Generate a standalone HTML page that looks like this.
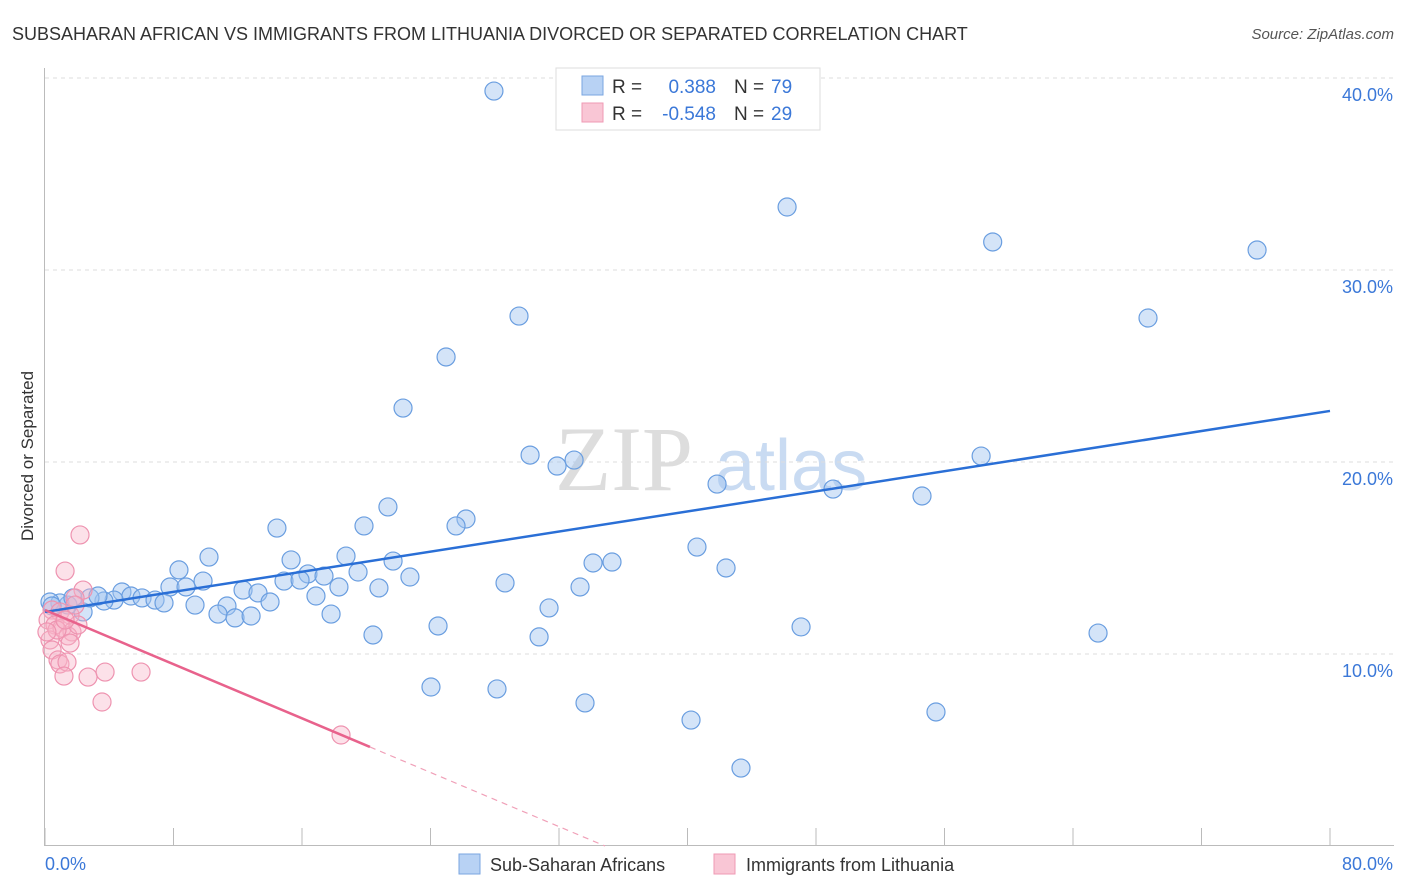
<!DOCTYPE html>
<html><head><meta charset="utf-8"><style>
body{margin:0;background:#fff;font-family:"Liberation Sans",sans-serif}
svg{display:block}
</style></head><body>
<svg id="chart" width="1406" height="892" xmlns="http://www.w3.org/2000/svg">
<text x="12" y="40" font-size="18" fill="#333">SUBSAHARAN AFRICAN VS IMMIGRANTS FROM LITHUANIA DIVORCED OR SEPARATED CORRELATION CHART</text>
<text x="1394" y="39" font-size="15" fill="#555" font-style="italic" text-anchor="end">Source: ZipAtlas.com</text>
<g>
<text x="555" y="490" font-size="92" font-family="Liberation Serif,serif" fill="#ddd">ZIP</text>
<text x="715" y="490" font-size="72" fill="#c9dbf2">atlas</text>
</g>
<g id="grid"></g>
<line x1="44.5" y1="68" x2="44.5" y2="846" stroke="#bbb"/>
<line x1="44" y1="845.5" x2="1394" y2="845.5" stroke="#bbb"/>
<text transform="translate(33,456) rotate(-90)" font-size="17" fill="#333" text-anchor="middle">Divorced or Separated</text>
<text x="45" y="870" font-size="18" fill="#3b78d8">0.0%</text>
<text x="1393" y="870" font-size="18" fill="#3b78d8" text-anchor="end">80.0%</text>
<g id="points"></g>
<g id="trends"></g>
<g>
<rect x="556" y="68" width="264" height="62" fill="#fff" stroke="#ddd"/>
<rect x="582" y="76" width="21" height="19" fill="#b8d2f4" stroke="#7aa6e0"/>
<rect x="582" y="103" width="21" height="19" fill="#f9c6d5" stroke="#ef9ab4"/>
<text x="612" y="93" font-size="19" fill="#333">R = </text><text x="716" y="93" font-size="19" fill="#3b78d8" text-anchor="end">0.388</text>
<text x="734" y="93" font-size="19" fill="#333">N = </text><text x="771" y="93" font-size="19" fill="#3b78d8">79</text>
<text x="612" y="120" font-size="19" fill="#333">R = </text><text x="716" y="120" font-size="19" fill="#3b78d8" text-anchor="end">-0.548</text>
<text x="734" y="120" font-size="19" fill="#333">N = </text><text x="771" y="120" font-size="19" fill="#3b78d8">29</text>
</g>
<g>
<rect x="459" y="854" width="21" height="20" fill="#b8d2f4" stroke="#7aa6e0"/>
<text x="490" y="871" font-size="18" fill="#333">Sub-Saharan Africans</text>
<rect x="714" y="854" width="21" height="20" fill="#f9c6d5" stroke="#ef9ab4"/>
<text x="746" y="871" font-size="18" fill="#333">Immigrants from Lithuania</text>
</g>
</svg>
<script>
const yTicks=[10,20,30,40];
const yTickLabels=["10.0%","20.0%","30.0%","40.0%"];
const xTicks=[0,8,16,24,32,40,48,56,64,72,80];
const blueX=[27.95,46.2,59.0,75.46,29.51,68.67,24.97,22.29,30.2,31.88,32.94,58.28,41.84,49.06,54.6,26.21,25.59,21.35,19.86,14.44,10.21,18.74,15.32,21.67,40.59,34.12,35.3,42.4,8.34,16.37,17.37,19.49,22.72,9.84,7.78,8.78,14.88,15.88,12.33,13.26,18.3,20.79,28.64,33.31,4.79,5.35,6.04,6.85,4.3,3.67,7.41,9.34,11.33,14.01,16.87,31.38,10.77,11.83,12.83,17.81,2.37,1.43,0.93,0.31,1.74,2.8,3.3,20.42,24.47,30.76,47.07,65.56,24.03,28.14,33.62,40.22,55.47,43.33,0.44];
const blueY=[39.32,33.28,31.46,31.04,27.6,27.5,25.47,22.81,20.36,19.79,20.1,20.31,18.85,18.59,18.23,17.03,16.67,17.66,16.67,16.56,15.05,15.1,14.9,14.84,15.57,14.74,14.79,14.48,14.38,14.17,14.06,14.27,14.01,13.8,13.49,13.49,13.8,13.85,13.33,13.18,13.49,13.44,13.7,13.49,13.23,13.02,12.92,12.81,12.81,12.76,12.66,12.55,12.5,12.71,13.02,12.4,12.08,11.88,11.98,12.08,12.19,12.55,12.66,12.71,12.92,12.92,13.02,10.99,11.46,10.89,11.41,11.09,8.28,8.18,7.45,6.56,6.98,4.06,12.5];
const pinkX=[2.18,1.25,2.37,1.87,0.44,0.93,1.56,0.19,0.62,1.06,1.68,1.43,0.31,0.44,0.81,0.93,1.37,1.18,1.56,2.68,3.74,5.98,3.55,18.43,1.87,0.75,0.12,2.05,1.25];
const pinkY=[16.2,14.32,13.33,12.92,12.29,12.19,12.03,11.77,11.51,11.35,11.15,10.94,10.73,10.21,9.69,9.48,9.58,8.85,10.57,8.8,9.06,9.06,7.5,5.78,12.55,11.25,11.15,11.51,11.77];
const blueTrend=[12.19,22.66]; // y at x=0 and x=80
const pinkTrend=[12.29,-0.3525]; // intercept, slope
const pinkSolidEnd=20.23;
const NS="http://www.w3.org/2000/svg";
const sx=v=>45+v/80*1285;
const sy=v=>846-v*19.2;
function mk(tag,attrs,parent){const e=document.createElementNS(NS,tag);for(const k in attrs)e.setAttribute(k,attrs[k]);parent.appendChild(e);return e;}
const grid=document.getElementById('grid');
yTicks.forEach((t,i)=>{
 const l=mk('line',{x1:45,x2:1394,y1:sy(t),y2:sy(t),stroke:'#ddd','stroke-dasharray':'4,4'},grid);
 
 
 const tx=mk('text',{x:1393,y:sy(t)+23,'font-size':18,fill:'#3b78d8','text-anchor':'end'},grid);
 tx.textContent=yTickLabels[i];
 
 
});
xTicks.forEach(t=>{
 const l=mk('line',{x1:sx(t),x2:sx(t),y1:828,y2:846,stroke:'#bbb'},grid);
 
 
});
const pts=document.getElementById('points');
blueX.forEach((x,i)=>{
 const c=mk('circle',{cx:sx(x),cy:sy(blueY[i]),r:9,fill:'rgba(160,195,240,0.45)',stroke:'#6a9ee0','stroke-width':1.2},pts);
 
 
});
pinkX.forEach((x,i)=>{
 const c=mk('circle',{cx:sx(x),cy:sy(pinkY[i]),r:9,fill:'rgba(248,180,200,0.4)',stroke:'#ee93b0','stroke-width':1.2},pts);
 
 
});
const tr=document.getElementById('trends');
const bl=mk('line',{x1:sx(0),y1:sy(blueTrend[0]),x2:sx(80),y2:sy(blueTrend[1]),stroke:'#2a6fd6','stroke-width':2.5},tr);


const pz=-pinkTrend[0]/pinkTrend[1];
const pl=mk('line',{x1:sx(0),y1:sy(pinkTrend[0]),x2:sx(pinkSolidEnd),y2:sy(pinkTrend[0]+pinkTrend[1]*pinkSolidEnd),stroke:'#e8628c','stroke-width':2.5},tr);


const pd=mk('line',{x1:sx(pinkSolidEnd),y1:sy(pinkTrend[0]+pinkTrend[1]*pinkSolidEnd),x2:sx(pz),y2:sy(0),stroke:'#f0a0b8','stroke-width':1.2,'stroke-dasharray':'6,5'},tr);


</script>
</body></html>
